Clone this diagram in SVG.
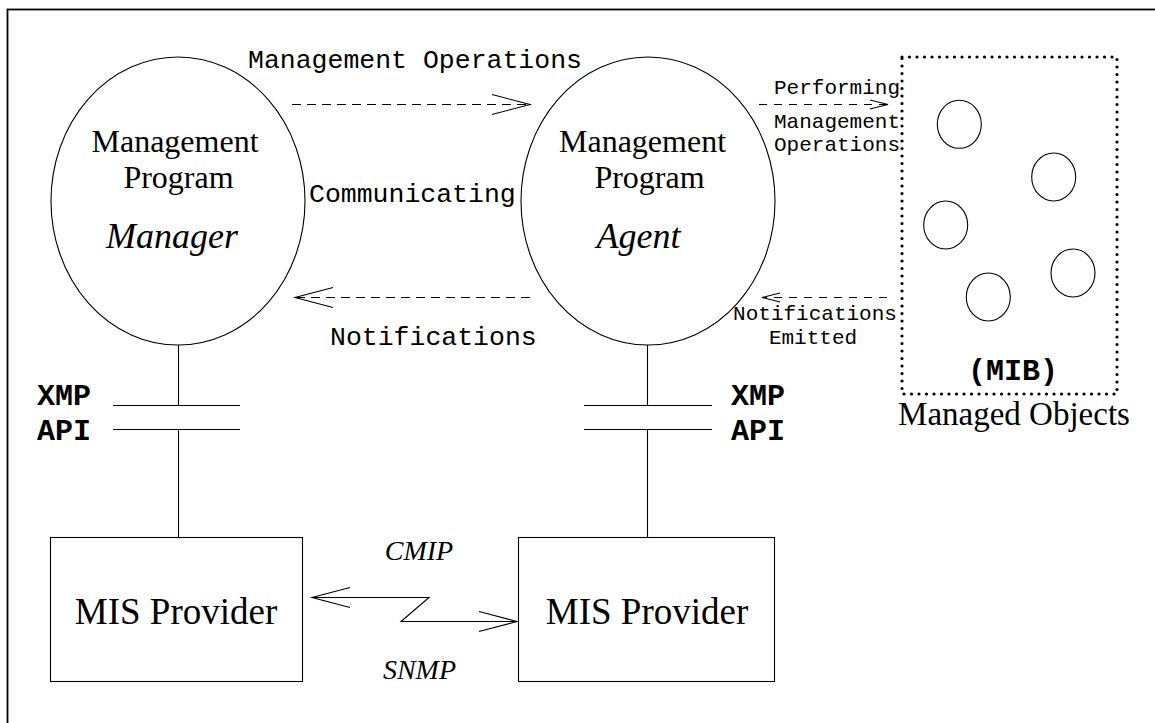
<svg xmlns="http://www.w3.org/2000/svg" width="1155" height="723" viewBox="0 0 1155 723">
<style>
  .ln { stroke: #000; stroke-width: 1.1; fill: none; }
  .dash { stroke: #000; stroke-width: 1.1; fill: none; stroke-dasharray: 9 6; }
  .dash2 { stroke: #000; stroke-width: 1.1; fill: none; stroke-dasharray: 8 7; }
  .serif { font-family: "Liberation Serif", "Times New Roman", serif; fill: #000; }
  .big { font-size: 32px; }
  .ital { font-size: 36px; font-style: italic; }
  .mono { font-family: "Liberation Mono", "Courier New", monospace; fill: #000; }
  .m1 { font-size: 26.5px; }
  .m2 { font-size: 21px; }
  .bold { font-size: 30px; font-weight: bold; }
</style>
<defs>
  <marker id="hBig" markerUnits="userSpaceOnUse" viewBox="-40 -12 42 24" markerWidth="42" markerHeight="24" refX="0" refY="0" orient="auto-start-reverse" overflow="visible">
    <path d="M-38,-10 L0,0 L-38,10" fill="none" stroke="#000" stroke-width="1.1" stroke-dasharray="none"/>
  </marker>
  <marker id="hSmall" markerUnits="userSpaceOnUse" viewBox="-20 -6 22 12" markerWidth="22" markerHeight="12" refX="0" refY="0" orient="auto-start-reverse" overflow="visible">
    <path d="M-18,-4.5 L0,0 L-18,4.5" fill="none" stroke="#000" stroke-width="1.1" stroke-dasharray="none"/>
  </marker>
</defs>
<rect width="1155" height="723" fill="#fff"/>
<rect x="7.5" y="9.5" width="1300" height="900" fill="none" stroke="#000" stroke-width="1.8"/>

<g id="manager">
  <ellipse cx="178" cy="201" rx="127" ry="144" class="ln"/>
  <text class="serif big" x="175" y="152" text-anchor="middle">Management</text>
  <text class="serif big" x="178.5" y="188" text-anchor="middle">Program</text>
  <text class="serif ital" x="172" y="248" text-anchor="middle">Manager</text>
</g>

<g id="agent">
  <ellipse cx="648" cy="201" rx="127" ry="144" class="ln"/>
  <text class="serif big" x="642.5" y="152" text-anchor="middle">Management</text>
  <text class="serif big" x="649.5" y="188" text-anchor="middle">Program</text>
  <text class="serif ital" x="638.5" y="248" text-anchor="middle">Agent</text>
</g>

<g id="mib">
  <rect x="902" y="57" width="215" height="337" fill="none" stroke="#000" stroke-width="3.2" stroke-dasharray="0 7.5" stroke-linecap="round"/>
  <ellipse cx="959.3" cy="124.3" rx="22" ry="24" class="ln"/>
  <ellipse cx="1053.7" cy="177" rx="22" ry="24" class="ln"/>
  <ellipse cx="945.7" cy="225" rx="22" ry="24" class="ln"/>
  <ellipse cx="1073" cy="273" rx="22" ry="24" class="ln"/>
  <ellipse cx="988.3" cy="297" rx="22" ry="24" class="ln"/>
  <text class="mono bold" x="1013" y="380" text-anchor="middle">(MIB)</text>
  <text class="serif" font-size="33" x="1014" y="425" text-anchor="middle">Managed Objects</text>
</g>

<g id="provider-left">
  <rect x="50.5" y="537.5" width="252" height="144" class="ln"/>
  <text class="serif" font-size="37" x="176" y="624" text-anchor="middle">MIS Provider</text>
</g>

<g id="provider-right">
  <rect x="518.5" y="537.5" width="256" height="144" class="ln"/>
  <text class="serif" font-size="37" x="647" y="624" text-anchor="middle">MIS Provider</text>
</g>

<g id="api-left">
  <text class="mono bold" x="37" y="405">XMP</text>
  <text class="mono bold" x="37" y="440">API</text>
  <line x1="113" y1="405.5" x2="240" y2="405.5" class="ln"/>
  <line x1="113" y1="429.5" x2="240" y2="429.5" class="ln"/>
</g>

<g id="api-right">
  <text class="mono bold" x="731" y="405">XMP</text>
  <text class="mono bold" x="731" y="440">API</text>
  <line x1="584" y1="405.5" x2="712" y2="405.5" class="ln"/>
  <line x1="584" y1="429.5" x2="712" y2="429.5" class="ln"/>
</g>

<g id="connectors">
  <line x1="178.5" y1="345" x2="178.5" y2="405.5" class="ln"/>
  <line x1="178.5" y1="429.5" x2="178.5" y2="537.5" class="ln"/>
  <line x1="647.5" y1="345" x2="647.5" y2="405.5" class="ln"/>
  <line x1="647.5" y1="429.5" x2="647.5" y2="537.5" class="ln"/>
  <line x1="292" y1="104.5" x2="530" y2="104.5" class="dash" marker-end="url(#hBig)"/>
  <line x1="530" y1="297.5" x2="295" y2="297.5" class="dash" marker-end="url(#hBig)"/>
  <line x1="759" y1="104.5" x2="888" y2="104.5" class="dash2" marker-end="url(#hSmall)"/>
  <line x1="887" y1="297.5" x2="762" y2="297.5" class="dash2" marker-end="url(#hSmall)"/>
  <polyline points="312,597.5 429,597.5 401,621.5 517,621.5" class="ln" marker-start="url(#hBig)" marker-end="url(#hBig)"/>
</g>

<g id="labels">
  <text class="mono m1" x="248" y="68">Management Operations</text>
  <text class="mono m1" x="309" y="202">Communicating</text>
  <text class="mono m1" x="330" y="345">Notifications</text>
  <text class="mono m2" x="900" y="94" text-anchor="end">Performing</text>
  <text class="mono m2" x="900" y="128" text-anchor="end">Management</text>
  <text class="mono m2" x="900" y="151" text-anchor="end">Operations</text>
  <text class="mono m2" x="815" y="320" text-anchor="middle">Notifications</text>
  <text class="mono m2" x="813" y="344" text-anchor="middle">Emitted</text>
  <text class="serif" font-size="28" font-style="italic" x="419" y="560" text-anchor="middle">CMIP</text>
  <text class="serif" font-size="28" font-style="italic" x="419.5" y="679" text-anchor="middle">SNMP</text>
</g>
</svg>
